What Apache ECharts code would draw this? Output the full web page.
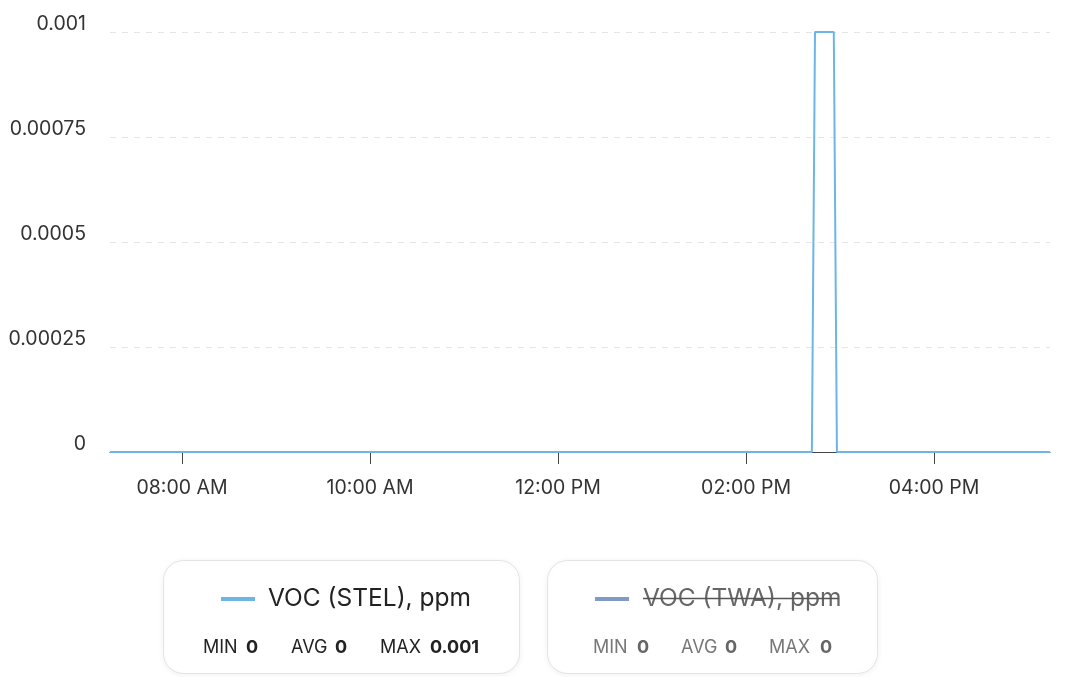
<!DOCTYPE html>
<html>
<head>
<meta charset="utf-8">
<script src="https://cdn.jsdelivr.net/npm/echarts@6/dist/echarts.min.js"></script>
<style>
html,body{margin:0;padding:0;background:#fff;}
#chart{width:1067px;height:677px;}
</style>
</head>
<body>
<div id="chart"></div>
<script>
// ---- data ----
const axisStart = '07:14';
const axisEnd = '17:14';
const stelTimes = ['07:14', '14:42', '14:44', '14:56', '14:58', '17:14'];
const stelValues = [0, 0, 0.001, 0.001, 0, 0];
const twaTimes = ['07:14', '17:14'];
const twaValues = [0, 0];
const yTickValues = [0, 0.00025, 0.0005, 0.00075, 0.001];
const yTickLabels = ['0', '0.00025', '0.0005', '0.00075', '0.001'];
const xTickTimes = ['08:00', '10:00', '12:00', '14:00', '16:00'];
const xTickLabels = ['08:00 AM', '10:00 AM', '12:00 PM', '02:00 PM', '04:00 PM'];
const seriesNames = ['VOC (STEL), ppm', 'VOC (TWA), ppm'];
const statLabels = ['MIN', 'AVG', 'MAX'];
const stelStats = ['0', '0', '0.001'];
const twaStats = ['0', '0', '0'];

function mins(hm) {
  const [h, m] = hm.split(':').map(Number);
  return h * 60 + m;
}
const stelData = stelTimes.map((t, i) => [mins(t), stelValues[i]]);
const twaData = twaTimes.map((t, i) => [mins(t), twaValues[i]]);
const xTickMins = xTickTimes.map(mins);

const FONT = 'Inter, "Noto Sans", sans-serif';
const STEL_COLOR = '#6cb6e6';
const TWA_COLOR = '#7f9bc4';

function statEls(xs, vals, color, vcolor) {
  const els = [];
  statLabels.forEach((l, i) => {
    els.push({type: 'text', x: xs[i][0], y: 648, style: {text: l, font: '18px ' + FONT, fill: color, align: 'left', verticalAlign: 'middle'}});
    els.push({type: 'text', x: xs[i][1], y: 648, style: {text: vals[i], font: 'bold 18px ' + FONT, fill: vcolor, align: 'left', verticalAlign: 'middle'}});
  });
  return els;
}

const graphics = [
  {type: 'rect', shape: {x: 163.5, y: 560.5, width: 356, height: 113, r: 20},
   style: {fill: '#fff', stroke: '#e4e4e4', lineWidth: 1, shadowBlur: 6, shadowColor: 'rgba(0,0,0,0.06)', shadowOffsetY: 1}},
  {type: 'rect', shape: {x: 547.5, y: 560.5, width: 330, height: 113, r: 20},
   style: {fill: '#fff', stroke: '#e4e4e4', lineWidth: 1, shadowBlur: 6, shadowColor: 'rgba(0,0,0,0.06)', shadowOffsetY: 1}},
  {type: 'line', shape: {x1: 221, y1: 599, x2: 255, y2: 599}, style: {stroke: STEL_COLOR, lineWidth: 4}},
  {type: 'text', x: 268, y: 599, style: {text: seriesNames[0], font: '24.5px ' + FONT, fill: '#222', align: 'left', verticalAlign: 'middle'}},
  {type: 'line', shape: {x1: 595, y1: 599, x2: 629, y2: 599}, style: {stroke: TWA_COLOR, lineWidth: 4}},
  {type: 'text', x: 643, y: 599, style: {text: seriesNames[1], font: '24.5px ' + FONT, fill: '#666', align: 'left', verticalAlign: 'middle'}},
  {type: 'line', shape: {x1: 643, y1: 598.5, x2: 838, y2: 598.5}, style: {stroke: '#555', lineWidth: 1.5}},
  ...statEls([[203, 246], [291, 335], [380, 430]], stelStats, '#222', '#222'),
  ...statEls([[593, 637], [681, 725], [769, 820]], twaStats, '#777', '#666')
];

const chart = echarts.init(document.getElementById('chart'), null, {renderer: 'canvas'});
chart.setOption({
  animation: false,
  backgroundColor: '#fff',
  grid: {left: 110, right: 17, top: 32, bottom: 225},
  legend: {show: false, data: seriesNames, selected: {[seriesNames[0]]: true, [seriesNames[1]]: false}},
  xAxis: {
    type: 'value',
    min: mins(axisStart),
    max: mins(axisEnd),
    splitLine: {show: false},
    axisLine: {lineStyle: {color: '#444', width: 1}},
    axisTick: {show: true, length: 12, customValues: xTickMins, lineStyle: {color: '#444'}},
    axisLabel: {
      margin: 26,
      customValues: xTickMins,
      fontFamily: FONT, fontSize: 19.5, color: '#333',
      formatter: function (v) {
        const i = xTickMins.indexOf(Math.round(v));
        return i >= 0 ? xTickLabels[i] : '';
      }
    }
  },
  yAxis: {
    type: 'value',
    min: 0, max: 0.001, interval: 0.00025,
    axisLine: {show: false},
    axisTick: {show: false},
    splitLine: {lineStyle: {color: '#e6e6e6', type: [6, 6], width: 1}},
    axisLabel: {
      margin: 24,
      fontFamily: FONT, fontSize: 19.5, color: '#333',
      verticalAlign: 'bottom', lineHeight: 16,
      formatter: function (v) {
        let best = 0;
        yTickValues.forEach((t, i) => { if (Math.abs(t - v) < Math.abs(yTickValues[best] - v)) best = i; });
        return yTickLabels[best];
      }
    }
  },
  series: [
    {name: seriesNames[0], type: 'line', data: stelData, showSymbol: false, symbol: 'none',
     lineStyle: {color: STEL_COLOR, width: 2}, itemStyle: {color: STEL_COLOR}, z: 3},
    {name: seriesNames[1], type: 'line', data: twaData, showSymbol: false, symbol: 'none',
     lineStyle: {color: TWA_COLOR, width: 2}, itemStyle: {color: TWA_COLOR}, z: 2}
  ],
  graphic: graphics
});
</script>
</body>
</html>
